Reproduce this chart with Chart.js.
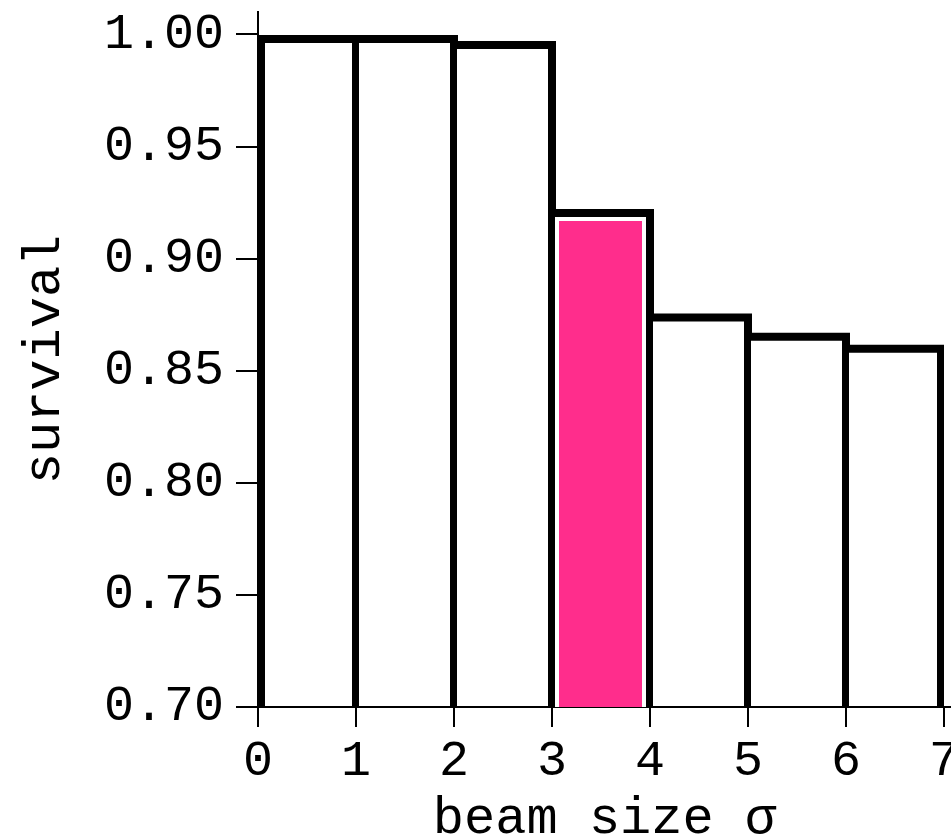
<!DOCTYPE html>
<html>
<head>
<meta charset="utf-8">
<script src="https://cdn.jsdelivr.net/npm/chart.js@4"></script>
<style>
  html, body { margin: 0; padding: 0; background: #fff; }
  #wrap { width: 951px; height: 840px; }
</style>
</head>
<body>
<div id="wrap"><canvas id="survival_hist" width="951" height="840"></canvas></div>
<script>
// bins of beam size (lower edge of each unit-wide bin)
const binStart = [0, 1, 2, 3, 4, 5, 6];
const survival = [0.998, 0.998, 0.9953, 0.9203, 0.8737, 0.8652, 0.8598];
const highlightBin = 3;
const xTickLabels = ['0', '1', '2', '3', '4', '5', '6', '7'];
const yTickLabels = ['0.70', '0.75', '0.80', '0.85', '0.90', '0.95', '1.00'];

document.addEventListener('DOMContentLoaded', function() {
  const ctx = document.getElementById('survival_hist').getContext('2d');
  const mono = 'Liberation Mono';
  const last = binStart.length - 1;

  // step outline across the bin tops: each point holds the value of the bin that ends there
  const stepPoints = [{ x: binStart[0], y: survival[0] }];
  binStart.forEach((x, i) => stepPoints.push({ x: x + 1, y: survival[i] }));

  const barPoints = binStart.map((x, i) => ({ x: x + 0.5, y: survival[i] }));
  const pinkPoints = binStart.map((x, i) => ({ x: x + 0.5, y: i === highlightBin ? survival[i] : null }));

  new Chart(ctx, {
    type: 'bar',
    data: {
      datasets: [
        {
          type: 'line',
          label: 'outline',
          data: stepPoints,
          stepped: 'after',
          borderColor: '#000',
          borderWidth: 8,
          borderJoinStyle: 'miter',
          borderCapStyle: 'butt',
          pointRadius: 0,
          fill: false,
          order: 0
        },
        {
          label: 'bins',
          data: barPoints,
          backgroundColor: 'rgba(0,0,0,0)',
          borderColor: '#000',
          borderWidth: function(c) {
            return {
              left: c.dataIndex === 0 ? 7 : 3,
              right: c.dataIndex === last ? 7 : 4,
              top: 0,
              bottom: 0
            };
          },
          inflateAmount: 0,
          grouped: false,
          barPercentage: 1,
          categoryPercentage: 1,
          order: 1
        },
        {
          label: 'highlight',
          data: pinkPoints,
          backgroundColor: 'rgb(255, 45, 140)',
          borderColor: '#fff',
          borderWidth: { left: 7, right: 8, top: 8, bottom: 10 },
          borderSkipped: false,
          inflateAmount: 0,
          grouped: false,
          barPercentage: 1,
          categoryPercentage: 1,
          order: 2
        }
      ]
    },
    options: {
      responsive: false,
      animation: false,
      layout: { padding: { top: 12, right: 0, left: 0, bottom: 0 } },
      scales: {
        x: {
          type: 'linear',
          offset: false,
          min: 0,
          max: 693 / 98,
          grid: { offset: false, drawOnChartArea: false, drawTicks: true, tickLength: 20, color: '#000', lineWidth: 2 },
          border: { display: true, color: '#000', width: 2 },
          ticks: {
            stepSize: 1,
            includeBounds: false,
            autoSkip: false,
            maxRotation: 0,
            padding: 10,
            color: '#000',
            font: { family: mono, size: 50, lineHeight: 1 },
            callback: function(v) { return xTickLabels[v] !== undefined && Number.isInteger(v) ? xTickLabels[v] : ''; }
          },
          title: {
            display: true,
            text: 'beam size σ',
            color: '#000',
            font: { family: mono, size: 52, lineHeight: 0.8 },
            padding: { top: 0, bottom: 0 }
          },
          afterFit: function(s) { s.height = 133; s.paddingLeft = 0; s.paddingRight = 0; }
        },
        y: {
          min: 0.70,
          max: 1.01,
          grid: { drawOnChartArea: false, drawTicks: true, tickLength: 22, color: '#000', lineWidth: 2 },
          border: { display: true, color: '#000', width: 2 },
          ticks: {
            stepSize: 0.05,
            includeBounds: false,
            padding: 12,
            color: '#000',
            font: { family: mono, size: 50 },
            callback: function(v) {
              const k = Math.round((v - 0.70) / 0.05);
              return Math.abs(v - (0.70 + k * 0.05)) < 1e-6 && yTickLabels[k] ? yTickLabels[k] : '';
            }
          },
          title: {
            display: true,
            text: 'survival',
            color: '#000',
            font: { family: mono, size: 52, lineHeight: 0.85 },
            padding: { top: 23, bottom: 0 }
          },
          afterFit: function(s) { s.width = 258; s.paddingTop = 0; s.paddingBottom = 0; }
        }
      },
      plugins: {
        legend: { display: false },
        tooltip: { enabled: false }
      }
    }
  });
});
</script>
</body>
</html>
